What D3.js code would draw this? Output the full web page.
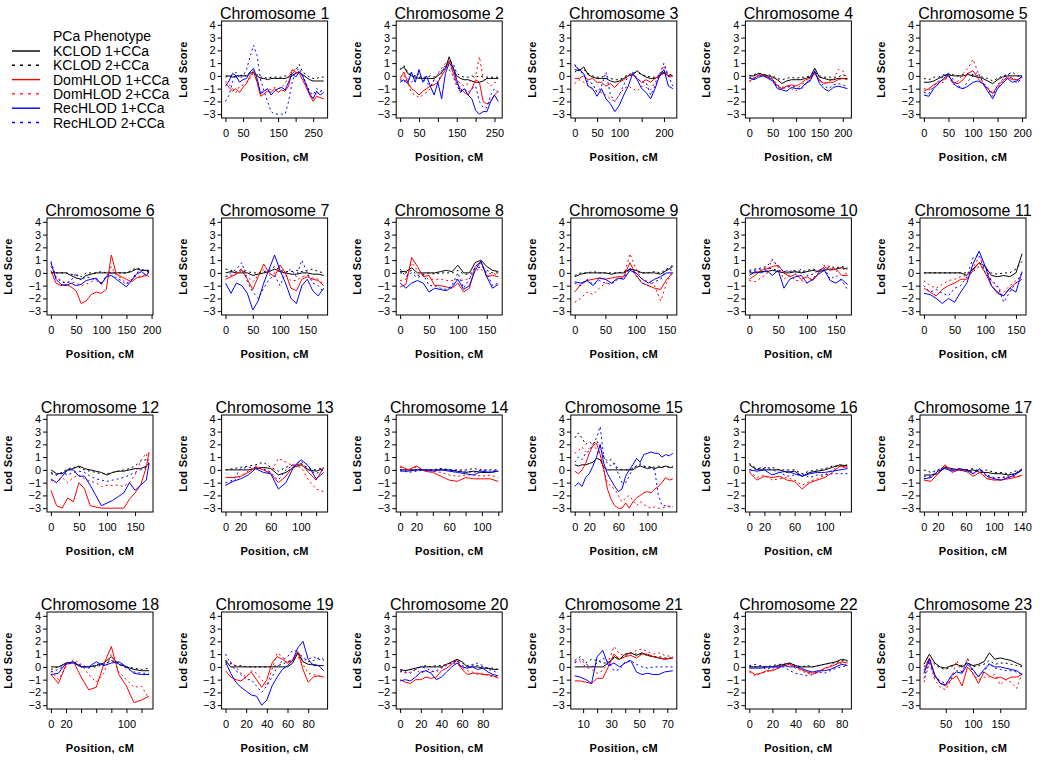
<!DOCTYPE html>
<html><head><meta charset="utf-8">
<script src="https://cdn.jsdelivr.net/npm/d3@7/dist/d3.min.js"></script>
<style>
body{margin:0;background:#fff}
text{font-family:Arial,"Liberation Sans",sans-serif;fill:#000}
</style>
</head><body>
<svg id="chart" width="1050" height="763"></svg>
<script>
// ---------------- DATA ----------------
const chromosomes = ["1","2","3","4","5","6","7","8","9","10","11","12","13","14","15","16","17","18","19","20","21","22","23"];

const seriesLabels = ["KCLOD 1+CCa","KCLOD 2+CCa","DomHLOD 1+CCa","DomHLOD 2+CCa","RecHLOD 1+CCa","RecHLOD 2+CCa"];
const seriesColors = ["#000000","#000000","#ff0000","#ff0000","#0000ff","#0000ff"];
const seriesDotted = [false,true,false,true,false,true];
const legendTitle = "PCa Phenotype";

const yTicks = [-3,-2,-1,0,1,2,3,4];

const positions = [
 [0,10,20,30,40,50,60,70,80,90,100,110,120,130,140,150,160,170,180,190,200,210,220,230,240,250,260,270,280],
 [0,10,20,30,40,50,60,70,80,90,100,110,120,130,140,150,160,170,180,190,200,210,220,230,240,250,260],
 [0,10,20,30,40,50,60,70,80,90,100,110,120,130,140,150,160,170,180,190,200,210,220],
 [0,10,20,30,40,50,60,70,80,90,100,110,120,130,140,150,160,170,180,190,200,210],
 [0,10,20,30,40,50,60,70,80,90,100,110,120,130,140,150,160,170,180,190,200],
 [0,10,20,30,40,50,60,70,80,90,100,110,120,130,140,150,160,170,180,190,195],
 [0,10,20,30,40,50,60,70,80,90,100,110,120,130,140,150,160,170,180],
 [0,10,20,30,40,50,60,70,80,90,100,110,120,130,140,150,160,170],
 [0,10,20,30,40,50,60,70,80,90,100,110,120,130,140,150,160],
 [0,10,20,30,40,50,60,70,80,90,100,110,120,130,140,150,160,170],
 [0,10,20,30,40,50,60,70,80,90,100,110,120,130,140,150,160],
 [0,10,20,30,40,50,60,70,80,90,100,110,120,130,140,150,160,170,175],
 [0,10,20,30,40,50,60,70,80,90,100,110,120,130],
 [0,10,20,30,40,50,60,70,80,90,100,110,120],
 [0,5,10,15,20,25,30,35,40,45,50,55,60,65,70,75,80,85,90,95,100,105,110,115,120,125,130,135],
 [0,10,20,30,40,50,60,70,80,90,100,110,120,130],
 [0,10,20,30,40,50,60,70,80,90,100,110,120,130,140],
 [0,10,20,30,40,50,60,70,80,90,100,110,120,130],
 [0,5,10,15,20,25,30,35,40,45,50,55,60,65,70,75,80,85,90,95],
 [0,5,10,15,20,25,30,35,40,45,50,55,60,65,70,75,80,85,90,95],
 [4,8,12,16,20,24,28,32,36,40,44,48,52,56,60,64,68,74],
 [0,5,10,15,20,25,30,35,40,45,50,55,60,65,70,75,80,85],
 [10,20,30,40,50,60,70,80,90,100,110,120,130,140,150,160,170,180,190]
];

const kclod1 = [
 [0,0,-0.1,0,0,0,0,0.2,0.3,0,-0.2,-0.2,-0.3,-0.2,-0.2,-0.2,-0.2,-0.2,-0.1,0,0.2,0.3,0.1,-0.1,-0.3,-0.4,-0.4,-0.4,-0.4],
 [0.5,0.7,0.2,0,-0.1,-0.2,-0.2,-0.2,-0.2,-0.2,0,0.3,0.6,1.5,0.6,0,-0.2,-0.3,-0.3,-0.4,-0.5,-0.5,-0.4,-0.2,-0.2,-0.2,-0.2],
 [0.5,0.4,0.7,0.1,-0.1,-0.2,-0.2,-0.2,-0.4,-0.5,-0.4,-0.2,0,0.1,0.4,0.1,-0.1,-0.2,-0.2,0,0.3,0,0],
 [0,0,0.2,0.1,0,-0.1,-0.3,-0.6,-0.4,-0.3,-0.3,-0.3,-0.2,-0.1,0.6,-0.1,-0.2,-0.3,-0.3,-0.2,-0.2,-0.2],
 [-0.5,-0.5,-0.4,-0.2,0,0.1,0,0,0,0.1,0,-0.1,-0.2,-0.4,-0.6,-0.3,-0.1,0,0,0,0],
 [0,0,0,0,-0.2,-0.4,-0.5,-0.2,-0.1,0,0,0,0,0,0,0,0.1,0.3,0.2,0.2,0.2],
 [0,0.1,0,0,0,-0.2,-0.1,0,0.1,0.3,0.1,0,-0.1,-0.1,0,0,-0.1,-0.1,-0.2],
 [0.1,0.1,0.4,0,0,0,0,0.1,0.2,0.1,0.6,0,0,0.8,1.0,0.5,0.2,0.1],
 [-0.3,-0.1,0,0,0,0,-0.1,0,0,0.3,0.2,0,0,0,-0.1,0.2,0.5],
 [0,0,0.1,0.1,0.2,0.1,0,0,0.1,0,0.1,0.2,0.1,0.2,0.3,0.3,0.4,0.3],
 [0,0,0,0,0,0,0,-0.2,0.3,0.8,0.5,-0.2,-0.3,-0.2,-0.3,0,1.5],
 [0,-0.3,-0.3,0,0.1,0.3,0.1,0,-0.1,-0.2,-0.4,-0.2,-0.1,-0.1,0,0.1,0.1,0.3,0.5],
 [0,0,0,0,0.1,0.2,0.1,-0.4,-0.2,0.2,0.4,0,-0.1,0.1],
 [0,0,0,0,0,0,0,-0.1,-0.2,-0.1,-0.2,-0.2,-0.1],
 [0.4,0.3,0.4,0.4,0.5,0.6,0.9,0.8,0.2,0,0,0,0,0,0,0,0,0.2,0.3,0.2,0.1,0.2,0.1,0.2,0.2,0.3,0.2,0.2],
 [0.4,0,0,0,0,-0.2,-0.1,-0.5,-0.2,-0.1,0,0.2,0.4,0.3],
 [-0.4,-0.4,-0.3,0.2,0.1,0,-0.1,0,-0.2,-0.2,-0.3,-0.3,-0.4,-0.3,0],
 [0,0,0.3,0.3,0,0,0.1,0.3,0.8,0.2,0,-0.2,-0.3,-0.3],
 [0.5,0,0,0,0,0,0,0,0,0,0,0,0,0.3,1.1,0.4,0.2,0.2,0.1,0.1],
 [-0.2,-0.3,-0.2,-0.1,0,0,0,0,0,0.2,0.4,0.6,0.4,0,0,0,-0.1,-0.1,-0.2,-0.2],
 [0,0,0,0,0,0,0.3,0.8,0.6,1.0,1.1,0.9,1.1,0.9,0.8,0.7,0.6,0.7],
 [0,0,0,0,0,0.1,0.2,0.3,0.1,0,0,0,0.1,0.2,0.3,0.4,0.6,0.5],
 [0.2,1.0,0.3,0,-0.1,0.1,0.2,0,0.3,0.1,0.2,0.4,1.1,0.6,0.7,0.6,0.5,0.3,0.1]
];

const kclod2 = [
 [-0.1,0,0,-0.1,0,0.1,0,0.3,0.4,0.1,-0.1,-0.1,-0.2,-0.1,-0.1,-0.1,-0.1,0,0,0.2,0.4,0.9,0.3,0.1,-0.1,-0.2,-0.2,-0.1,-0.1],
 [0.5,0.8,0.3,0.1,0,-0.1,-0.1,-0.1,0,-0.1,0.1,0.4,0.8,1.2,1.0,0.2,0,-0.1,-0.1,0,-0.1,0,-0.1,-0.1,-0.1,-0.1,-0.1],
 [0.3,0.5,0.5,0.2,0,-0.1,-0.1,0,-0.2,-0.3,-0.3,-0.1,0.1,0.2,0.3,0.1,0,-0.1,-0.1,0.1,0.4,0.1,0.1],
 [0,0.1,0.2,0.1,0.1,0,-0.2,-0.3,-0.2,-0.1,-0.2,-0.1,-0.1,0,0.3,0,-0.1,-0.1,-0.1,-0.1,0.1,-0.1],
 [-0.2,-0.3,-0.1,-0.1,0.1,0.2,0.1,0,0.1,0.2,0.1,0,-0.1,-0.2,-0.4,-0.2,0,0.1,0.3,0,0],
 [0,0,0,0,-0.1,-0.2,-0.3,0,0,0,0.1,0,0,0,0,0,0.2,0.4,0.3,0.1,0.1],
 [0.3,0.2,0.1,0.3,0.1,0,0,0.1,0.2,0.5,0.2,0.1,0.1,0.2,0.1,0.2,0.3,0.1,0],
 [0,0,0.2,-0.2,-0.1,0,-0.1,0,0,0,0.2,-0.1,-0.1,0.3,0.5,0.2,0,0],
 [-0.2,0,0,0.1,0,0,0,0,0.1,0.3,0.1,0,0,0.1,0,0.3,0.6],
 [0.2,0.3,0.3,0.4,0.3,0.2,0.1,0.1,0.2,0.1,0.2,0.3,0.2,0.3,0.5,0.4,0.5,0.4],
 [0,0,0,0,0,0,0,0,0.1,0.5,0.3,0,-0.1,0,0,0.3,0.9],
 [-0.2,-0.4,-0.2,0.1,0.2,0.2,0,-0.1,-0.2,-0.3,-0.3,-0.2,-0.1,0,0.1,0.3,0.7,0.8,0.5],
 [0,0.1,0.2,0.3,0.4,0.6,0.2,-0.1,0.2,0.4,0.5,0.1,0,0.2],
 [0,0,0,0,0,0.1,0,0,0,0.1,0,0,0],
 [2.5,2.9,2.5,2.0,2.2,2.0,2.3,1.8,1.0,0.7,0.8,0.4,0.1,0,0,0,0.1,0.3,0.4,0.3,0.2,0.3,0.2,0.3,0.2,0.3,0.2,0.3],
 [0.5,0.1,0.1,0.2,0,0,0,-0.3,-0.1,0,0.1,0.3,0.3,0.4],
 [0,-0.2,0,0.3,0,0,0,0.1,-0.1,0,-0.2,-0.2,-0.3,-0.1,0],
 [-0.2,0,0.2,0.4,0.1,0,0,0.2,0.5,0.3,0,-0.1,-0.2,-0.1],
 [0.5,0.3,0.1,0.1,0,0,0,0,0,0,0.1,0.2,0.4,0.6,1.0,0.8,0.4,0.5,0.7,0.6],
 [-0.4,-0.3,-0.2,-0.2,0,0.1,0,0.1,0.1,0.2,0.3,0.5,0.3,0.1,0.2,0.1,0,-0.1,-0.1,-0.2],
 [0.5,0.8,0.3,0.6,0.5,0.3,0.3,0.7,0.6,0.9,1.1,1.0,1.0,0.9,0.8,0.8,0.7,0.7],
 [0,0,0.1,0,0.1,0.2,0.2,0.3,0.1,0,0.1,0,0.1,0.2,0.3,0.3,0.5,0.4],
 [0,0.6,0.2,-0.1,-0.2,0,0.2,0.1,0.3,0,0.1,0.2,0.5,0.2,0.3,0.3,0.2,0.1,0]
];

const domhlod1 = [
 [-0.6,-0.9,-1.2,-1.0,-1.3,-0.9,-0.6,0,0.3,-0.5,-1.6,-1.4,-1.2,-1.3,-1.0,-1.3,-1.1,-1.2,-0.8,0.5,0.3,0.2,-0.3,-0.9,-1.5,-2.0,-1.6,-1.7,-1.8],
 [-0.2,0.3,-0.5,-1.0,-1.2,-1.5,-1.2,-1.0,-0.8,-0.7,-0.5,0,0.5,1.2,0.3,-0.6,-1.0,-1.3,-1.5,-1.0,-0.3,-0.5,-2.0,-2.2,-2.0,-1.5,-1.2],
 [-0.2,-0.2,0,-0.3,-0.2,-0.5,-0.5,-0.8,-0.6,-0.9,-0.5,-0.3,0,0.1,-0.2,-0.5,-0.3,-0.5,-0.2,0,0.2,0,0],
 [-0.4,-0.2,0.1,0,-0.1,-0.3,-0.8,-1.0,-0.8,-0.7,-0.8,-0.6,-0.3,-0.2,0.2,-0.3,-0.6,-0.5,-0.5,-0.3,-0.2,-0.3],
 [-1.2,-1.0,-0.7,-0.5,-0.3,0,-0.5,-0.6,-0.3,0.2,0.4,-0.2,-0.6,-1.0,-1.4,-0.8,-0.4,-0.1,-0.3,-0.3,-0.1],
 [0.2,-0.8,-1.0,-0.9,-1.1,-1.4,-2.4,-2.2,-1.7,-1.5,-1.6,-1.3,1.4,-0.1,-0.3,-0.5,-0.7,-0.4,-0.3,-0.2,-0.3],
 [-0.5,-0.3,-0.1,0.2,-0.5,-1.3,-0.3,0.7,0,-0.3,0.6,0,-1.2,-1.4,-0.5,-0.3,-0.5,-0.6,-1.0],
 [-1.1,-0.9,1.2,0.5,-0.3,-0.2,-1.0,-1.0,-1.1,-1.2,-0.8,-1.5,-1.2,0.5,0.9,-0.3,-0.2,-0.3],
 [-1.5,-0.9,-0.6,-0.5,-0.4,-0.5,-0.4,-0.3,-0.3,0.8,-0.2,-0.8,-1.0,-1.2,-1.3,-0.5,0],
 [-0.5,-0.2,0.2,0.3,0.5,0.6,0,-0.3,-0.1,-0.5,-0.3,-0.6,0,0.5,0.2,0.3,-0.2,-0.2],
 [-1.2,-1.5,-1.8,-1.3,-1.0,-0.8,-0.5,-0.5,0.2,0.8,0,-1.0,-1.5,-1.8,-1.2,-0.8,-0.5],
 [-1.6,-2.8,-3.0,-2.2,-2.5,-1.0,-1.5,-2.8,-2.9,-3.0,-3.0,-3.0,-3.0,-3.0,-2.3,-1.8,-1.2,0.2,1.4],
 [-0.6,-0.6,-0.5,-0.2,0.2,0,-0.3,-1.0,-0.5,0.3,0.5,-0.2,-0.8,0.2],
 [0.3,0,0.3,-0.1,-0.2,-0.5,-0.8,-0.9,-0.6,-0.7,-0.7,-0.7,-0.9],
 [-0.1,-0.3,0,0.5,1.3,1.9,2.1,1.2,0,-1.5,-2.3,-2.8,-3.0,-3.0,-2.6,-3.0,-2.5,-2.2,-2.0,-1.8,-1.7,-1.8,-1.5,-1.3,-1.0,-0.6,-0.8,-0.7],
 [-0.2,-0.8,-0.5,-0.6,-0.5,-0.8,-0.9,-1.5,-1.0,-0.8,-0.6,-0.2,0.3,0.2],
 [-0.8,-0.9,-0.3,0.4,-0.2,0,-0.1,-0.5,-0.2,-0.7,-0.8,-0.8,-0.7,-0.6,-0.4],
 [-0.6,-1.3,0.2,0.4,-0.8,-1.8,-1.6,0.2,1.6,-0.6,-1.5,-2.8,-2.6,-2.3],
 [-0.3,-0.8,-1.0,-1.1,-0.8,-0.4,-1.0,-1.6,-1.0,0.3,0.8,0.6,0.3,0.5,1.2,-0.2,-1.2,-0.8,-0.7,-0.8],
 [-1.0,-1.2,-1.3,-1.0,-1.0,-0.8,-0.9,-0.8,-0.3,-0.1,0.2,0.5,-0.2,-0.6,-0.5,-0.5,-0.6,-0.6,-0.7,-0.9],
 [-1.1,-1.1,-1.2,-1.3,-0.9,-0.9,0,1.0,0.6,0.8,0.9,0.7,1.0,1.0,0.8,0.7,0.6,0.7],
 [-0.3,-0.6,-0.5,-0.3,-0.3,-0.1,0.1,0.2,0,-0.2,-0.4,-0.5,-0.4,-0.1,0,0.2,0.4,0.3],
 [-0.3,0.7,-0.6,-1.3,-1.5,-1.0,-0.7,-1.5,0,-0.5,-1.3,-0.4,-0.7,-0.9,-0.8,-1.0,-0.8,-0.8,-0.6]
];

const domhlod2 = [
 [-0.4,-0.7,-1.0,-1.3,-0.8,-0.7,-0.5,-0.2,0.3,-0.4,-1.3,-1.2,-1.0,-1.1,-0.9,-1.0,-0.9,-0.6,0,0.4,0.5,0.3,0,-0.6,-1.3,-1.7,-1.4,-1.3,-1.0],
 [-0.3,0,-0.5,-1.3,-1.5,-1.7,-1.5,-1.3,-1.0,-0.3,0.2,0.6,1.0,0.8,0.4,-0.3,-0.6,-0.8,-0.6,-0.3,0,1.5,-0.2,-0.5,-0.8,-0.5,-0.5],
 [-0.6,-0.3,-0.5,-0.8,-1.0,-1.2,-1.3,-1.5,-1.8,-2.0,-1.5,-1.0,-0.8,-1.0,-1.2,-0.8,-0.9,-1.1,-0.5,0,0.8,0,-0.2],
 [-0.5,-0.1,0,0.1,-0.1,-0.2,-0.7,-0.9,-0.8,-1.0,-1.2,-0.7,-0.5,-0.3,0.1,-0.4,-0.6,-0.4,-0.3,0.5,0.4,-0.2],
 [-1.0,-1.1,-0.9,-0.6,-0.5,0,-0.7,-0.4,0.2,0.6,1.3,0.3,-0.5,-0.9,-1.3,-0.9,-0.5,-0.2,-0.1,-0.4,-0.3],
 [0.5,-0.3,-0.6,-0.8,-0.7,-0.8,-1.0,-0.9,-0.7,-0.5,-0.8,-0.4,0.5,-0.2,-0.4,-0.8,-0.6,-0.2,-0.3,0,0],
 [-0.3,-0.2,0,0.3,-0.3,-0.7,-0.2,0.3,-0.2,0,0.2,-0.2,-0.6,-0.6,-0.3,-0.2,-0.4,-0.5,-0.9],
 [-0.6,-0.5,0.8,0.2,-0.2,-0.5,-0.5,-0.5,-0.6,-0.6,-0.5,-0.6,-0.4,0.2,0.3,-0.1,0,-0.2],
 [-2.3,-2.0,-1.5,-1.7,-1.2,-0.8,-0.8,-0.5,-0.3,1.5,0.3,-0.5,-0.7,-1.0,-2.2,-0.8,0.2],
 [-0.6,-0.7,-0.4,-0.1,1.1,0.4,-0.5,-0.2,-0.6,-0.6,-0.8,-0.4,0,0.6,0.5,0.1,0.5,-0.2],
 [-0.6,-1.0,-1.2,-0.9,-0.6,-0.5,-0.3,-0.2,0.4,1.3,0.5,-0.6,-1.2,-1.5,-1.0,-0.6,-0.2],
 [-0.8,-1.0,-0.6,-1.0,-0.6,-0.4,-0.7,-0.9,-1.0,-1.3,-1.2,-1.2,-1.2,-1.3,-1.0,-0.4,0.7,1.3,0.5],
 [-1.2,-0.9,-0.5,-0.1,0.3,0.1,-0.2,0.9,0.6,0.3,0.2,-0.8,-1.5,-1.7],
 [0.2,0,0.2,0,-0.1,-0.2,-0.4,-0.5,-0.4,-0.4,-0.5,-0.4,-0.6],
 [1.3,1.5,1.8,1.4,1.7,2.0,1.6,1.2,0,-1.0,-1.3,-1.5,-2.0,-2.5,-2.2,-2.0,-2.4,-2.8,-2.5,-2.7,-2.9,-3.0,-2.9,-3.0,-3.0,-2.9,-2.8,-2.9],
 [-0.1,-0.6,-0.4,-0.8,-0.7,-0.6,-0.8,-1.2,-0.9,-0.7,-0.4,0,0.3,0.1],
 [-0.7,-0.6,-0.1,0.3,0,0.1,0,-0.3,0,-0.6,-0.7,-0.6,-0.6,-0.5,-0.5],
 [-0.3,-1.0,0,0.6,0.2,-0.6,-1.2,-0.5,1.0,-0.4,-1.0,-1.6,-1.5,-2.5],
 [0.2,0.4,0,-0.5,-0.8,-0.3,-0.5,-1.0,-1.5,-0.2,1.1,0.8,0.3,0.6,0.8,0.2,-0.5,-0.6,-0.7,-0.8],
 [-0.2,-0.5,-0.4,-0.2,-0.5,-0.3,-0.4,-0.3,0,0.2,0.3,0.2,-0.1,-0.3,-0.4,-0.6,-0.5,-0.7,-0.8,-0.7],
 [0.4,0.4,0,-0.2,-0.5,-0.3,0.4,1.6,1.0,0.9,1.0,1.3,1.4,1.2,1.0,1.1,0.9,0.8],
 [-0.4,-0.7,-0.5,-0.4,-0.2,0,0.3,0.2,-0.1,-0.3,-0.5,-0.6,-0.3,-0.2,0.1,0.2,0.3,0.1],
 [-1.2,0.3,-1.0,-1.6,-1.8,-1.0,0.5,-0.5,0.7,-0.6,-1.0,-0.8,-0.8,-0.6,-1.4,-1.0,-1.2,-1.7,-0.5]
];

const rechlod1 = [
 [-0.8,-0.4,0.2,0,-0.5,-0.3,-0.2,0.3,0.6,-0.2,-1.4,-1.2,-1.0,-1.5,-1.2,-1.0,-0.9,-1.1,-0.5,0.2,-0.1,0.3,0,-0.7,-1.4,-1.8,-1.2,-1.5,-1.3],
 [-0.5,-0.3,-0.6,0.3,-0.5,0.5,-0.5,0,-0.8,-1.5,-0.5,-1.8,0.2,1.0,0.7,-0.3,-1.3,-1.0,-1.5,-1.8,-2.7,-3.0,-2.8,-2.8,-2.0,-1.5,-2.0],
 [0.8,0.5,0.2,-0.8,-1.0,-1.6,-1.0,-1.8,-2.2,-2.8,-2.3,-1.5,-0.8,0.2,-0.3,-1.0,-1.3,-1.8,-1.0,0,0.5,-0.8,-1.0],
 [-0.1,-0.3,-0.1,0,-0.2,-0.4,-1.0,-1.1,-1.2,-0.9,-1.0,-1.0,-0.6,-0.4,0.4,-0.6,-1.0,-1.2,-0.9,-0.8,-0.9,-1.0],
 [-1.5,-1.6,-1.0,-0.6,-0.2,0.1,-0.6,-0.9,-1.0,-0.8,-0.5,-0.4,-0.6,-1.2,-1.8,-1.0,-0.6,-0.2,-0.5,-0.4,0],
 [0.8,-0.5,-0.9,-1.0,-0.8,-1.0,-0.9,-0.6,-0.5,-0.4,-0.9,-0.3,-0.2,-0.5,-0.8,-1.1,-0.6,-0.1,0.1,-0.2,0.1],
 [-0.8,-1.6,-0.8,-1.0,-1.6,-2.9,-2.2,-0.8,0.3,1.4,0.2,-0.8,-2.0,-2.4,-1.0,-0.5,-1.4,-1.8,-1.2],
 [-0.8,-1.2,-0.8,-0.6,-0.8,-1.5,-1.2,-1.3,-1.4,-1.1,-0.5,-1.3,-1.0,0.2,0.9,-0.3,-1.2,-0.9],
 [-0.7,-0.8,-0.6,-1.0,-0.4,-0.5,-0.8,-0.4,-0.5,0.2,0,-0.5,-0.8,-0.5,-0.3,0,0],
 [-0.2,0.1,0,0.2,-0.2,0.2,-1.2,-0.5,-0.3,-0.2,-0.8,-0.5,-0.1,0.2,-0.6,-0.8,-0.5,-0.9],
 [-1.6,-1.7,-2.0,-2.4,-2.0,-2.3,-1.5,-0.8,0.7,1.7,0.5,-1.0,-1.6,-1.8,-1.2,-1.5,0.1],
 [-0.7,-1.0,-0.5,0,0,-0.5,-0.5,-1.2,-2.0,-2.8,-2.6,-2.4,-2.1,-1.8,-1.0,-1.6,-1.2,-0.8,0.5],
 [-1.2,-0.9,-0.7,-0.4,0.1,-0.2,-0.3,-1.5,-1.0,0.2,0.8,0.3,-0.7,-0.2],
 [-0.1,-0.1,0,0,-0.1,0,-0.1,-0.2,-0.3,-0.4,-0.1,-0.2,-0.1],
 [-1.3,-1.0,-1.3,-0.6,-0.3,0.3,1.0,2.0,0.5,-0.3,-0.8,-1.3,-1.7,-1.5,-0.5,0,0.4,0.9,0.6,1.2,1.3,1.4,1.3,1.3,1.0,1.2,1.1,1.3],
 [0,-0.1,0,-0.4,-0.2,-0.1,-0.3,-0.5,-0.3,-0.2,-0.2,-0.1,0,0.1],
 [-0.7,-0.6,-0.1,0.1,-0.1,0.1,0,-0.3,0.1,-0.5,-0.7,-0.8,-0.6,-0.4,0],
 [-0.6,-0.5,0.3,0.4,0,0,0.4,0.1,0.3,0.4,0,-0.5,-0.6,-0.6],
 [0.4,-0.5,-1.2,-1.6,-1.9,-2.2,-2.3,-3.0,-2.6,-1.5,-0.8,-0.2,0.1,0.5,1.5,2.0,0.6,0.1,0.1,-0.3],
 [-1.1,-1.0,-1.1,-0.8,-0.4,-0.3,-0.5,-1.0,-0.8,-0.4,0,0.3,0,-0.1,0,-0.2,-0.1,-0.4,-0.6,-0.7],
 [-0.7,-0.8,-1.0,-1.3,0.8,1.3,0.1,0.3,0,0.3,0.5,-0.4,-0.6,-0.5,-0.6,-0.6,-0.4,-0.3],
 [-0.1,-0.1,-0.1,0,0,0,0.1,0,0,-0.1,-0.3,-0.4,-0.3,-0.3,-0.2,0,0.2,0.1],
 [-0.5,0.6,-0.7,-1.3,-1.4,-0.7,-0.4,-0.5,0.2,-0.2,-0.8,-0.2,0.2,0,0,-0.1,-0.2,-0.3,-0.6]
];

const rechlod2 = [
 [-2.0,-1.5,-0.5,0.3,-0.2,0,0.5,1.5,2.4,1.6,-0.3,-1.2,-2.0,-2.8,-3.0,-3.0,-3.0,-3.0,-2.0,-0.5,0.3,0.6,0,-0.6,-1.2,-1.5,-1.0,-1.2,-1.1],
 [-0.3,-0.5,-0.2,-0.5,-0.2,0.2,-0.3,-0.5,-0.8,-0.3,-0.5,0.2,0.8,0.5,0,-0.8,-1.2,-1.0,-1.3,-1.0,-0.8,-2.0,-2.5,-2.5,-1.5,-1.0,-1.3],
 [0.9,0.4,0.1,-0.5,-0.6,-1.3,-0.8,0.3,-1.5,-2.0,-1.5,-0.7,0,0.3,-0.2,-0.5,-0.5,-1.5,-0.8,0.1,1.0,0,-0.8],
 [-0.2,-0.2,0,0,-0.1,-0.3,-0.9,-1.0,-0.9,-0.8,-0.9,-1.1,-0.7,-0.3,0.3,-0.4,-0.8,-1.0,-0.7,-0.6,-0.7,-0.9],
 [-1.3,-1.4,-0.8,-0.4,0,0.2,-0.3,-0.8,-1.0,-0.4,0,0.3,-0.5,-1.0,-1.6,-0.7,-0.3,0.2,-0.2,-0.6,-0.1],
 [0.9,-0.3,-0.7,-0.8,-0.6,0,-0.6,-0.3,-0.4,-0.6,-0.8,-0.2,0,-0.4,-0.6,-0.9,-0.5,0,0.2,0.2,0.2],
 [-0.3,0,0.3,0.8,-0.7,-1.5,-2.0,-1.2,-0.5,-0.2,-1.0,0,0.3,-0.3,1.0,0,-0.8,-1.0,-1.5],
 [0.3,-0.3,0,-0.4,-0.1,-1.0,-1.0,-1.2,-1.3,-1.0,0,-1.2,-0.5,0.5,0.8,0,-1.0,-0.8],
 [-0.8,-1.0,-0.5,-0.9,-0.6,-0.8,-0.9,-0.5,-0.4,0.4,-0.2,-0.8,-1.0,-0.7,-0.5,0.3,0.2],
 [0.1,0.2,0.4,0.5,1.0,0.5,0.1,0.2,0,0.3,-0.2,-0.1,0.2,0.4,-0.5,-0.2,-0.6,-1.3],
 [-1.0,-1.5,-1.3,-1.6,-1.8,-1.2,-1.0,-0.3,1.2,1.4,0,-0.6,-1.0,-2.3,-1.5,-0.8,0],
 [-0.3,-0.4,-0.2,-0.4,-0.2,-0.1,-0.2,-0.5,-0.7,-0.8,-0.9,-0.8,-0.7,-0.6,-0.4,-0.2,0,0.2,0.5],
 [-1.0,-0.8,0.1,0.2,0.2,0.1,-0.2,-0.8,0,0.4,0.7,0,-0.3,0],
 [0,-0.2,-0.1,0,0,0.1,0,-0.1,-0.1,-0.2,0,-0.1,0],
 [0.6,1.0,0.8,1.3,1.5,2.0,2.5,3.4,1.0,0.5,0.3,0.5,-0.3,-1.0,-1.0,-0.5,0.2,0.3,0.5,0.3,0.2,0.1,0,-2.0,-2.8,-2.8,-2.9,-2.9],
 [0,0.1,0.2,0,-0.2,-0.5,-0.4,-0.3,-0.6,-0.4,-0.4,-0.3,-0.3,-0.3],
 [-0.5,-0.5,0,0.2,0,0,0,-0.2,0,-0.4,-0.6,-0.6,-0.5,-0.3,0.1],
 [-0.4,-0.2,0.2,0.3,0.1,-0.1,0.2,0.2,0.5,0.2,-0.1,-0.4,-0.5,-0.5],
 [1.0,0.2,-0.3,-0.6,-1.0,-1.0,-1.5,-2.0,-1.5,-0.8,0,0.5,0.8,1.3,1.2,0.5,0.6,0.8,0.6,0.5],
 [-0.3,-0.4,-0.5,-0.2,0,-0.1,-0.3,-0.4,-0.1,0.1,0.3,0.5,0.1,0,0.1,0.3,0.1,-0.2,-0.3,-0.5],
 [0.3,0.6,0.2,0,0.3,0.7,0.4,-0.3,-0.2,0.4,0.5,0.2,0,-0.1,0,0,0,0],
 [0.1,0.2,0,-0.2,0,-0.1,0,-0.3,-0.5,-0.6,-0.7,-0.6,-0.4,-0.5,-0.3,-0.1,0,0.1],
 [-0.9,0.5,-0.8,-1.1,-1.3,-0.8,-0.3,-0.4,0.6,-0.3,-0.7,-0.4,0.3,-0.1,-0.2,-0.3,-0.3,-0.4,-0.6]
];

const xTicks = [
 [0,50,100,150,200,250],[0,50,100,150,200,250],[0,50,100,150,200],[0,50,100,150,200],[0,50,100,150,200],
 [0,50,100,150,200],[0,50,100,150],[0,50,100,150],[0,50,100,150],[0,50,100,150],[0,50,100,150],[0,50,100,150],
 [0,20,40,60,80,100,120],[0,20,40,60,80,100,120],[0,20,40,60,80,100,120],[0,20,40,60,80,100,120],
 [0,20,40,60,80,100,120,140],[0,20,40,60,80,100,120],[0,20,40,60,80],[0,20,40,60,80],
 [10,20,30,40,50,60,70],[0,20,40,60,80],[50,100,150]
];
const xTickLabels = [
 ["0","50","","150","","250"],["0","50","","150","","250"],["0","50","100","","200"],["0","50","100","150","200"],["0","50","100","150","200"],
 ["0","50","100","150","200"],["0","50","100","150"],["0","50","100","150"],["0","50","100","150"],["0","50","100","150"],["0","50","100","150"],["0","50","100","150"],
 ["0","20","","60","","100",""],["0","20","","60","","100",""],["0","20","","60","","100",""],["0","20","","60","","100",""],
 ["0","20","","60","","100","","140"],["0","20","","","","100",""],["0","20","40","60","80"],["0","20","40","60","80"],
 ["10","","30","","50","","70"],["0","20","40","60","80"],["50","100","150"]
];

// ---------------- LAYOUT ----------------
const svg = d3.select("#chart");
const W = 106, H = 97;
const colLeft = c => 47 + 174.6 * c;
const rowTop = r => 21 + 197 * r;
const seriesData = [kclod1, kclod2, domhlod1, domhlod2, rechlod1, rechlod2];

// Legend (top-left cell)
const leg = svg.append("g");
leg.append("text").attr("x", 53).attr("y", 41).style("font-size", "14px").text(legendTitle);
seriesLabels.forEach((lab, k) => {
  const cy = 51 + k * 14.3;
  leg.append("line").attr("x1", 12).attr("x2", 40).attr("y1", cy).attr("y2", cy)
    .attr("stroke", seriesColors[k]).attr("stroke-width", 1.4)
    .attr("stroke-dasharray", seriesDotted[k] ? "3,5" : null);
  leg.append("text").attr("x", 53).attr("y", cy + 5).style("font-size", "14px").text(lab);
});

const y = d3.scaleLinear().domain([-3.3, 4.3]).range([H, 0]);

chromosomes.forEach((name, i) => {
  const p = i + 1;
  const col = p % 6, row = Math.floor(p / 6);
  const g = svg.append("g").attr("transform", `translate(${colLeft(col)},${rowTop(row)})`);
  const pos = positions[i];
  const lo = d3.min(pos), hi = d3.max(pos), pad = (hi - lo) * 0.04;
  const x = d3.scaleLinear().domain([lo - pad, hi + pad]).range([0, W]);

  g.append("clipPath").attr("id", "clip" + i).append("rect").attr("width", W).attr("height", H);
  const lines = g.append("g").attr("clip-path", `url(#clip${i})`);
  seriesData.forEach((arr, k) => {
    const vals = arr[i];
    const pts = pos.map((px, j) => [px, vals[j]]).filter(d => d[1] !== undefined);
    lines.append("path").datum(pts)
      .attr("fill", "none").attr("stroke", seriesColors[k]).attr("stroke-width", 1)
      .attr("stroke-dasharray", seriesDotted[k] ? "2,3" : null)
      .attr("d", d3.line().x(d => x(d[0])).y(d => y(d[1])));
  });

  g.append("rect").attr("width", W).attr("height", H).attr("fill", "none").attr("stroke", "#000").attr("stroke-width", 1);

  const ya = g.append("g").call(d3.axisLeft(y).tickValues(yTicks).tickSize(4).tickPadding(2).tickFormat(d3.format("d")));
  ya.select(".domain").remove();
  ya.selectAll("text").style("font-size", "11px").attr("font-family", null);

  const xa = g.append("g").attr("transform", `translate(0,${H})`)
    .call(d3.axisBottom(x).tickValues(xTicks[i]).tickSize(4).tickPadding(7)
      .tickFormat((d, j) => xTickLabels[i][j]));
  xa.select(".domain").remove();
  xa.selectAll("text").style("font-size", "11px").attr("font-family", null);

  g.append("text").attr("x", W / 2).attr("y", -2).attr("text-anchor", "middle")
    .style("font-size", "16px").text("Chromosome " + name);
  g.append("text").attr("transform", `translate(-35,${H / 2}) rotate(-90)`).attr("text-anchor", "middle")
    .style("font-size", "11px").style("font-weight", "bold").style("letter-spacing", "0.3px").text("Lod Score");
  g.append("text").attr("x", W / 2).attr("y", H + 43).attr("text-anchor", "middle")
    .style("font-size", "11px").style("font-weight", "bold").style("letter-spacing", "0.3px").text("Position, cM");
});
</script>
</body></html>
